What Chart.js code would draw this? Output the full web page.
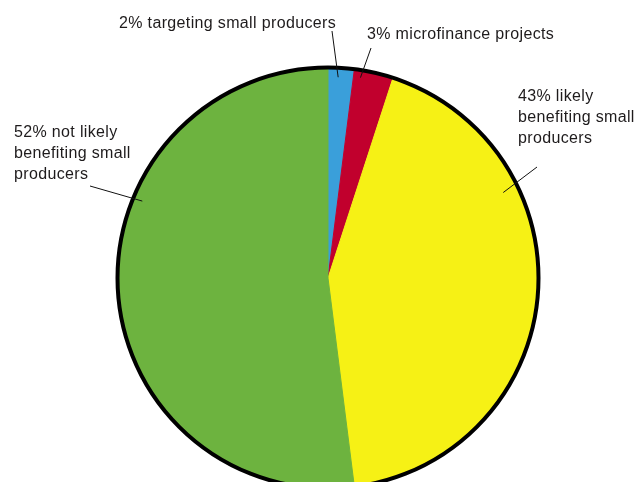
<!DOCTYPE html>
<html>
<head>
<meta charset="utf-8">
<script src="https://cdn.jsdelivr.net/npm/chart.js@4.4.1/dist/chart.umd.min.js"></script>
<style>
  html, body { margin: 0; padding: 0; background: #ffffff; overflow: hidden; }
  #wrap { width: 643px; height: 500px; }
</style>
</head>
<body>
<div id="wrap"><canvas id="pie" width="643" height="500"></canvas></div>
<script>
// Share of funding by category (percent), clockwise from 12 o'clock
const shares = [2, 3, 43, 52];
const descriptions = [
  ['targeting small producers'],
  ['microfinance projects'],
  ['likely', 'benefiting small', 'producers'],
  ['not likely', 'benefiting small', 'producers']
];
const sliceColors = ['#3A9FDA', '#C1002D', '#F6F115', '#6DB33F'];

// Label text: the percentage joins the first line of each description
const labelLines = descriptions.map((lines, i) =>
  lines.map((t, j) => (j === 0 ? shares[i] + '% ' + t : t))
);

// Label placement (left x, first baseline) and leader line geometry:
// outer end in canvas px, inner end as angle (deg clockwise from top) and inset from the rim
const labelPlacement = [
  { x: 119, y: 28,  out: [332, 31],  angle: 2.9,  inset: 9 },
  { x: 367, y: 39,  out: [371, 48],  angle: 9.2,  inset: 7 },
  { x: 518, y: 101, out: [537, 167], angle: 64,   inset: 15 },
  { x: 14,  y: 137, out: [90, 186],  angle: 292.5, inset: 9 }
];
const lineHeight = 21;

const annotate = {
  id: 'annotate',
  afterDatasetsDraw(chart) {
    const ctx = chart.ctx;
    const arc = chart.getDatasetMeta(0).data[0];
    const cx = arc.x, cy = arc.y, R = arc.outerRadius;

    // outer rim only (no borders between slices)
    ctx.save();
    ctx.beginPath();
    ctx.arc(cx, cy, R + 0.5, 0, Math.PI * 2);
    ctx.lineWidth = 4;
    ctx.strokeStyle = '#000000';
    ctx.stroke();

    // leader lines
    ctx.lineWidth = 1;
    ctx.strokeStyle = '#111111';
    labelPlacement.forEach(p => {
      const a = p.angle * Math.PI / 180;
      const r = R - p.inset;
      ctx.beginPath();
      ctx.moveTo(p.out[0], p.out[1]);
      ctx.lineTo(cx + r * Math.sin(a), cy - r * Math.cos(a));
      ctx.stroke();
    });

    // labels
    ctx.fillStyle = '#1E1B1C';
    ctx.font = '16px "Liberation Sans", Arial, sans-serif';
    ctx.letterSpacing = '0.35px';
    ctx.textAlign = 'left';
    ctx.textBaseline = 'alphabetic';
    labelLines.forEach((lines, i) => {
      const p = labelPlacement[i];
      lines.forEach((t, j) => ctx.fillText(t, p.x, p.y + j * lineHeight));
    });
    ctx.restore();
  }
};

new Chart(document.getElementById('pie'), {
  type: 'pie',
  data: {
    labels: labelLines.map(l => l.join(' ')),
    datasets: [{
      data: shares,
      backgroundColor: sliceColors,
      borderColor: sliceColors,
      borderWidth: 1
    }]
  },
  options: {
    responsive: false,
    animation: false,
    events: [],
    layout: { padding: { top: 67.5, bottom: 11.5, left: 117.5, right: 104.5 } },
    plugins: {
      legend: { display: false },
      tooltip: { enabled: false }
    }
  },
  plugins: [annotate]
});
</script>
</body>
</html>
